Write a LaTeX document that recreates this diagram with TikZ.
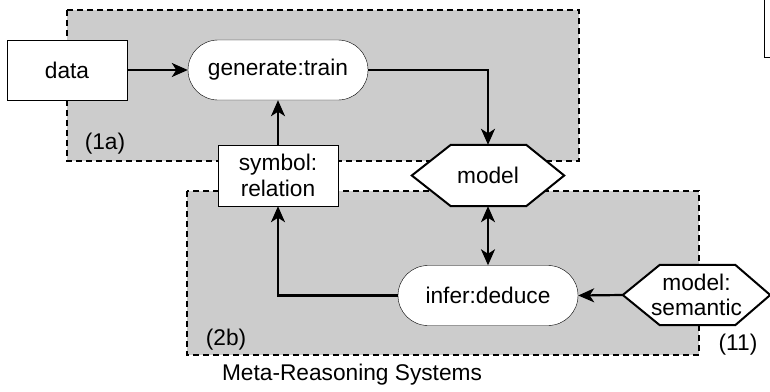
\documentclass[tikz,border=0pt]{standalone}
\usepackage{fontspec}
\setmainfont{Liberation Sans}
\usetikzlibrary{arrows.meta,calc}
\pgfdeclarelayer{back}
\pgfdeclarelayer{mid}
\pgfsetlayers{back,mid,main}
\definecolor{grpgray}{HTML}{CCCCCC}
\begin{document}
\begin{tikzpicture}[x=1pt,y=-1pt,
  font=\fontsize{22.7}{25.5}\selectfont,
  line width=2pt,
  grp/.style={draw, fill=grpgray, line width=1.8pt, dash pattern=on 6pt off 4pt},
  boxnode/.style={draw, fill=white, minimum width=120pt, minimum height=60pt, inner sep=0pt, align=center},
  pill/.style={draw, fill=white, rounded corners=30pt, minimum width=180pt, minimum height=60pt, inner sep=0pt},
  hexlbl/.style={inner sep=0pt, align=center},
  hexshape/.style={draw, fill=white, line width=2pt},
  lbl/.style={inner sep=0pt},
  arr/.style={-{Stealth[length=16pt,width=14pt,inset=4.5pt]}, line width=2.2pt},
  darr/.style={{Stealth[length=16pt,width=14pt,inset=4.5pt]}-{Stealth[length=16pt,width=14pt,inset=4.5pt]}, line width=2.2pt}
]
\useasboundingbox (0,0) rectangle (770,391);

% groups
\begin{pgfonlayer}{back}
\draw[grp] (67,10) rectangle (579,161);
\draw[grp] (187,191) rectangle (699,355);
\end{pgfonlayer}

% nodes
\node[boxnode] (data) at (67,70) {data};
\node[pill] (gen) at (278,70) {generate:train};
\node[boxnode, minimum height=61pt] (sym) at (278,175.5) {symbol:\\relation};
\node[hexlbl, minimum width=152pt, minimum height=61pt] (model) at (488,175.5) {model};
\node[pill] (infer) at (488,295.5) {infer:deduce};
\node[hexlbl, minimum width=147pt, minimum height=60pt] (msem) at (696.5,295) {model:\\semantic};
\node[draw, minimum width=60pt, minimum height=67pt, anchor=north west, inner sep=0pt] (cut) at (764,-10) {};

\begin{pgfonlayer}{mid}
\draw[hexshape] (model.west) -- ($(model.north west)+(39,0)$) -- ($(model.north east)+(-38,0)$) -- (model.east)
  -- ($(model.south east)+(-38,0)$) -- ($(model.south west)+(39,0)$) -- cycle;
\draw[hexshape] (msem.west) -- ($(msem.north west)+(37,0)$) -- ($(msem.north east)+(-35,0)$) -- (msem.east)
  -- ($(msem.south east)+(-35,0)$) -- ($(msem.south west)+(37,0)$) -- cycle;
\end{pgfonlayer}

% labels
\node[lbl] (l1a) at (105,144) {(1a)};
\node[lbl] (l2b) at (226,340) {(2b)};
\node[lbl] (l11) at (738,345) {(11)};
\node[lbl] (cap) at (352,375) {Meta-Reasoning Systems};

% connectors
\draw[arr] (data.east) -- (gen.west);
\draw[arr] (gen.east) -- (gen.east -| model.north) -- (model.north);
\draw[arr] (sym.north) -- (gen.south);
\draw[arr] (infer.west) -- (infer.west -| sym.south) -- (sym.south);
\draw[darr] (model.south) -- (infer.north);
\draw[arr] (msem.west) -- (infer.east);
\end{tikzpicture}
\end{document}
